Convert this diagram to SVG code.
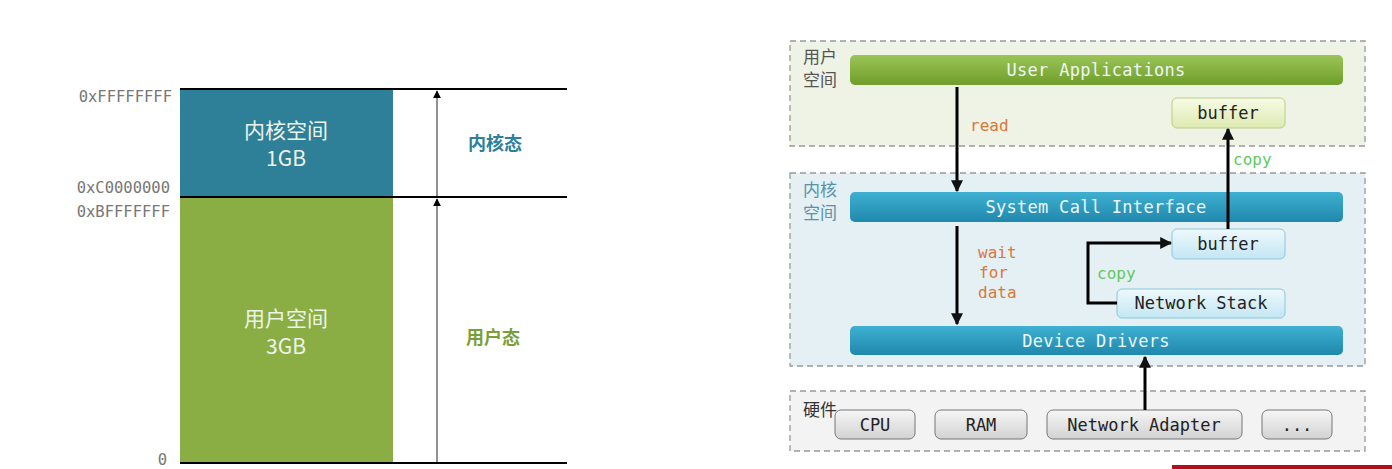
<svg xmlns="http://www.w3.org/2000/svg" width="1392" height="469" viewBox="0 0 1392 469">
<defs>
<linearGradient id="gGreen" x1="0" y1="0" x2="0" y2="1"><stop offset="0" stop-color="#9cc456"/><stop offset="1" stop-color="#6f9e2c"/></linearGradient>
<linearGradient id="gBlue" x1="0" y1="0" x2="0" y2="1"><stop offset="0" stop-color="#3fb0d2"/><stop offset="1" stop-color="#1f88ad"/></linearGradient>
<linearGradient id="gLBlue" x1="0" y1="0" x2="0" y2="1"><stop offset="0" stop-color="#eef9fd"/><stop offset="1" stop-color="#c3e6f3"/></linearGradient>
<linearGradient id="gYel" x1="0" y1="0" x2="0" y2="1"><stop offset="0" stop-color="#f8fbe6"/><stop offset="1" stop-color="#dceab0"/></linearGradient>
<linearGradient id="gGray" x1="0" y1="0" x2="0" y2="1"><stop offset="0" stop-color="#f6f6f6"/><stop offset="1" stop-color="#d2d2d2"/></linearGradient>
<marker id="ah" viewBox="0 0 10 10" refX="9" refY="5" markerWidth="6" markerHeight="6" orient="auto"><path d="M0,0 L10,5 L0,10 z" fill="#000"/></marker>
<marker id="ahs" viewBox="0 0 10 10" refX="9" refY="5" markerWidth="4" markerHeight="4" orient="auto"><path d="M0,0 L10,5 L0,10 z" fill="#111"/></marker>
</defs>
<style>
.mono{font-family:"DejaVu Sans Mono","Liberation Mono",monospace}
.addr{font-size:15.5px;fill:#777}
.cjk{font-family:"Noto Sans CJK SC","Noto Sans",sans-serif}
.blk{font-size:21px;fill:#eef3ea}
.bar{font-size:17px;fill:#eef6f4;letter-spacing:0.3px}
.box{font-size:17px;fill:#222}
.hw{rx:6;ry:6;fill:url(#gGray);stroke:#777;stroke-width:1}
.lab{font-size:17px;fill:#555}
.conn{stroke:#000;stroke-width:3;fill:none}
.cp{font-size:16px;fill:#5fc95f}
.rd{font-size:16px;fill:#d9773a}
.region{stroke:#999;stroke-width:1.3;stroke-dasharray:6,4}
</style>
<rect width="1392" height="469" fill="#fff"/>

<g id="left-memory">
<g id="kernel-block">
<rect x="180" y="88" width="213" height="109" fill="#2e7f98"/>
<text class="cjk blk" x="286" y="138" text-anchor="middle">内核空间</text>
<text class="cjk blk" x="286" y="166" text-anchor="middle">1GB</text>
</g>
<g id="user-block">
<rect x="180" y="198" width="213" height="265" fill="#8aae44"/>
<text class="cjk blk" x="286" y="326" text-anchor="middle">用户空间</text>
<text class="cjk blk" x="286" y="354" text-anchor="middle">3GB</text>
</g>
<g id="addresses">
<text class="mono addr" x="172" y="102" text-anchor="end">0xFFFFFFFF</text>
<text class="mono addr" x="170" y="193" text-anchor="end">0xC0000000</text>
<text class="mono addr" x="170" y="217" text-anchor="end">0xBFFFFFFF</text>
<text class="mono addr" x="167" y="465" text-anchor="end">0</text>
</g>
<g id="bounds">
<line x1="180" y1="89" x2="567" y2="89" stroke="#000" stroke-width="2"/>
<line x1="180" y1="197" x2="567" y2="197" stroke="#000" stroke-width="2"/>
<line x1="180" y1="463" x2="567" y2="463" stroke="#000" stroke-width="2"/>
<line x1="437" y1="196" x2="437" y2="91" stroke="#555" stroke-width="1.3" marker-end="url(#ah)"/>
<line x1="437" y1="462" x2="437" y2="199" stroke="#555" stroke-width="1.3" marker-end="url(#ah)"/>
</g>
<text class="cjk" x="495" y="150" text-anchor="middle" font-size="18" font-weight="bold" fill="#2e7f98">内核态</text>
<text class="cjk" x="493" y="344" text-anchor="middle" font-size="18" font-weight="bold" fill="#7a9e3a">用户态</text>
</g>

<g id="user-space">
<rect class="region" x="790" y="41" width="575" height="105" fill="#eef3e5"/>
<text class="cjk lab" x="803" y="63">用户</text>
<text class="cjk lab" x="803" y="86">空间</text>
</g>
<g id="kernel-space">
<rect class="region" x="790" y="173" width="575" height="193" fill="#e5f0f4"/>
<text class="cjk lab" x="803" y="196" style="fill:#5a93a8">内核</text>
<text class="cjk lab" x="803" y="219" style="fill:#5a93a8">空间</text>
</g>
<g id="hardware">
<rect class="region" x="790" y="391" width="575" height="60" fill="#f3f3f3"/>
<text class="cjk lab" x="803" y="416" style="fill:#333">硬件</text>
</g>

<g id="user-applications">
<rect x="850" y="55" width="493" height="30" rx="5" fill="url(#gGreen)"/>
<text class="mono bar" x="1096" y="76" text-anchor="middle">User Applications</text>
</g>
<g id="user-buffer">
<rect x="1172" y="98" width="113" height="30" rx="5" fill="url(#gYel)" stroke="#b9cf87" stroke-width="1"/>
<text class="mono box" x="1228" y="119" text-anchor="middle">buffer</text>
</g>
<g id="system-call-interface">
<rect x="850" y="192" width="493" height="30" rx="5" fill="url(#gBlue)"/>
<text class="mono bar" x="1096" y="213" text-anchor="middle">System Call Interface</text>
</g>
<g id="kernel-buffer">
<rect x="1172" y="229" width="113" height="30" rx="5" fill="url(#gLBlue)" stroke="#8cc7dc" stroke-width="1"/>
<text class="mono box" x="1228" y="250" text-anchor="middle">buffer</text>
</g>
<g id="network-stack">
<rect x="1117" y="289" width="168" height="29" rx="5" fill="url(#gLBlue)" stroke="#8cc7dc" stroke-width="1"/>
<text class="mono box" x="1201" y="309" text-anchor="middle">Network Stack</text>
</g>
<g id="device-drivers">
<rect x="850" y="326" width="493" height="29" rx="5" fill="url(#gBlue)"/>
<text class="mono bar" x="1096" y="347" text-anchor="middle">Device Drivers</text>
</g>
<g id="cpu">
<rect class="hw" x="835" y="410" width="80" height="29"/>
<text class="mono box" x="875" y="431" text-anchor="middle">CPU</text>
</g>
<g id="ram">
<rect class="hw" x="935" y="410" width="92" height="29"/>
<text class="mono box" x="981" y="431" text-anchor="middle">RAM</text>
</g>
<g id="network-adapter">
<rect class="hw" x="1047" y="410" width="195" height="29"/>
<text class="mono box" x="1144" y="431" text-anchor="middle">Network Adapter</text>
</g>
<g id="more">
<rect class="hw" x="1262" y="410" width="70" height="29"/>
<text class="mono box" x="1297" y="431" text-anchor="middle">...</text>
</g>

<g id="connectors">
<line class="conn" x1="957" y1="87" x2="957" y2="191" marker-end="url(#ahs)"/>
<text class="mono rd" x="970" y="131">read</text>
<line class="conn" x1="957" y1="226" x2="957" y2="324" marker-end="url(#ahs)"/>
<text class="mono rd" x="978" y="258">wait</text>
<text class="mono rd" x="979" y="278">for</text>
<text class="mono rd" x="978" y="298">data</text>
<polyline class="conn" points="1117,303 1088,303 1088,243 1171,243" marker-end="url(#ahs)"/>
<text class="mono cp" x="1097" y="279">copy</text>
<line class="conn" x1="1228" y1="229" x2="1228" y2="129" marker-end="url(#ahs)"/>
<text class="mono cp" x="1233" y="165">copy</text>
<line class="conn" x1="1145" y1="410" x2="1145" y2="357" marker-end="url(#ahs)"/>
</g>

<rect x="1172" y="465" width="220" height="4" fill="#b0101a"/>
</svg>
